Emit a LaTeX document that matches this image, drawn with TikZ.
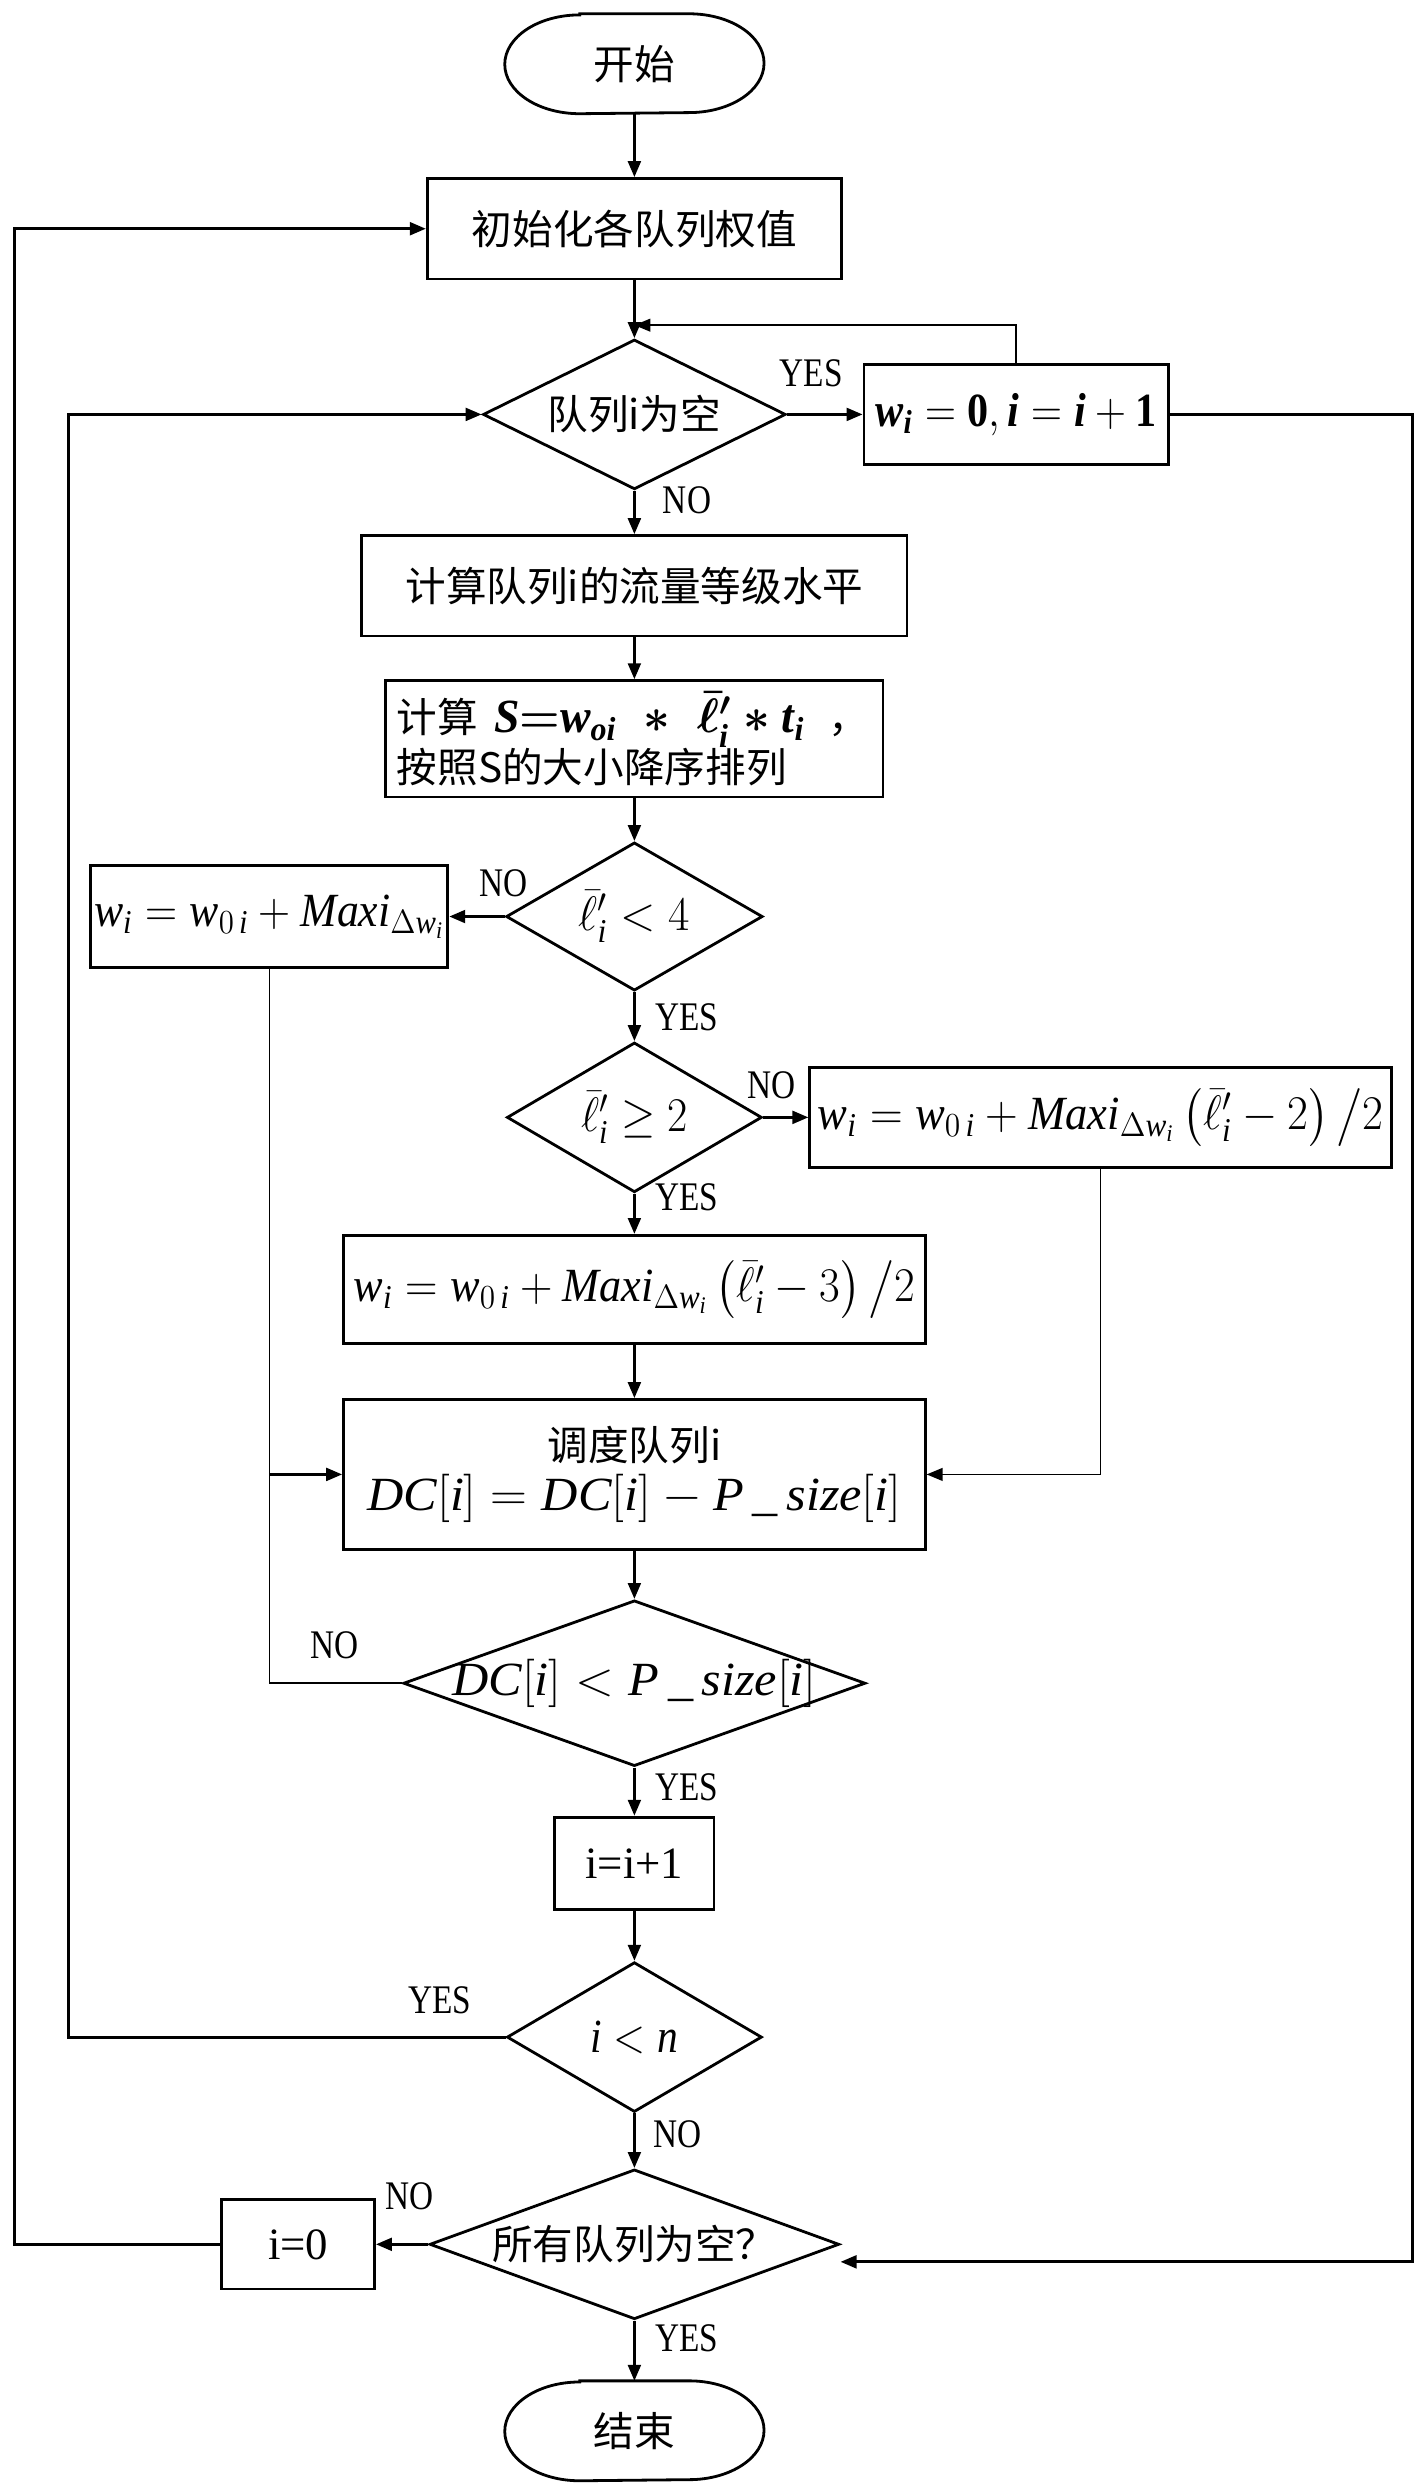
\documentclass[tikz,border=0pt]{standalone}
\usepackage{amsmath}
\usepackage{graphicx}
\usepackage{fontspec}
\setmainfont{Liberation Serif}
\newfontfamily\cjk{Noto Sans CJK SC}
\newfontfamily\labf[FakeStretch=0.82]{Liberation Serif}
\usetikzlibrary{shapes.geometric,arrows.meta}
\newcommand\tm[1]{\text{\normalfont\itshape #1}}
\newcommand\tb[1]{\text{\normalfont\bfseries\itshape #1}}
\newcommand\tu[1]{\text{\normalfont\bfseries #1}}
\newcommand\fitw[2]{\resizebox{#1}{\height}{#2}}
\newcommand\drawterm[1]{\draw[ln] ([xshift=0.94cm]#1.north west) -- ([xshift=-0.94cm]#1.north east) arc[start angle=90,end angle=-90,x radius=0.94cm,y radius=0.62cm] -- ([xshift=0.94cm]#1.south west) arc[start angle=270,end angle=90,x radius=0.94cm,y radius=0.62cm] -- cycle;}
\begin{document}
\begin{tikzpicture}[x=0.02cm,y=-0.02cm,
  ln/.style={line width=1pt},
  thinln/.style={line width=0.6pt},
  arr/.style={ln,-{Triangle[length=0.2cm,width=0.16cm]}},
  tarr/.style={thinln,-{Triangle[length=0.2cm,width=0.16cm]}},
  box/.style={draw,ln,rectangle,inner sep=0pt,font=\cjk\fontsize{14.5}{17}\selectfont},
  dia/.style={draw,ln,diamond,inner sep=0pt,font=\cjk\fontsize{14.5}{17}\selectfont},
  term/.style={inner sep=0pt,minimum width=3.24cm,minimum height=1.24cm,font=\cjk\fontsize{14.5}{17}\selectfont},
  lab/.style={font=\labf\fontsize{14.5}{17}\selectfont,inner sep=0pt},
  mth/.style={font=\fontsize{17}{20}\selectfont}
]
\path[fill=white,use as bounding box] (0,0) rectangle (890.2,1563.4);

% nodes
\node[term] (st) at (398,40) {开始};
\drawterm{st}
\node[box,minimum width=5.2cm,minimum height=1.26cm] (init) at (398,143.5) {初始化各队列权值};
\node[dia,minimum width=3.8cm,minimum height=1.88cm] (d1) at (398,260) {\makebox[0pt]{队列i为空}};
\node[box,mth,minimum width=3.82cm,minimum height=1.26cm] (b1) at (637.5,260) {\fitw{3.53cm}{$\tb{w}_{\tb{i}} = \tu{0}, \tb{i} = \tb{i} + \tu{1}$}};
\node[box,minimum width=6.84cm,minimum height=1.26cm] (b2) at (398,367.5) {计算队列i的流量等级水平};
\node[box,minimum width=6.24cm,minimum height=1.46cm,text width=5.96cm,align=left] (b3) at (398,463.5)
  {计算\hspace{0.2cm}{\fontsize{17}{20}\selectfont\fitw{3.9cm}{\boldmath$\tb{S}{=}\tb{w}_{\tb{oi}}\;*\;\bar{\ell}'_{\tb{i}}*\tb{t}_{\tb{i}}$}}\hspace{0.3cm}，\\[-1pt]按照S的大小降序排列};
\node[dia,minimum width=3.22cm,minimum height=1.86cm] (d2) at (398,575) {\makebox[0pt]{\fontsize{17}{20}\selectfont\fitw{1.4cm}{$\bar{\ell}'_{\tm{i}} < 4$}}};
\node[box,mth,minimum width=4.48cm,minimum height=1.28cm] (bL) at (169,575) {\fitw{4.4cm}{$\tm{w}_{\tm{i}} = \tm{w}_{0\,\tm{i}} + \tm{Maxi}_{\Delta\tm{w}_{\tm{i}}}$}};
\node[dia,minimum width=3.2cm,minimum height=1.88cm] (d3) at (398,701) {\makebox[0pt]{\fontsize{17}{20}\selectfont\fitw{1.34cm}{$\bar{\ell}'_{\tm{i}} \geq 2$}}};
\node[box,mth,minimum width=7.3cm,minimum height=1.26cm] (bR) at (690.5,701) {\fitw{7.1cm}{$\tm{w}_{\tm{i}} = \tm{w}_{0\,\tm{i}} + \tm{Maxi}_{\Delta\tm{w}_{\tm{i}}}\left(\bar{\ell}'_{\tm{i}} - 2\right)\big/2$}};
\node[box,mth,minimum width=7.3cm,minimum height=1.36cm] (bM) at (398,809) {\fitw{7.05cm}{$\tm{w}_{\tm{i}} = \tm{w}_{0\,\tm{i}} + \tm{Maxi}_{\Delta\tm{w}_{\tm{i}}}\left(\bar{\ell}'_{\tm{i}} - 3\right)\big/2$}};
\node[box,minimum width=7.3cm,minimum height=1.88cm,align=center] (b4) at (398,925)
  {调度队列i\\[1pt]{\fontsize{17}{20}\selectfont\fitw{6.7cm}{$\tm{DC}[\tm{i}] = \tm{DC}[\tm{i}] - \tm{P}\,\text{\normalfont\_}\,\tm{size}[\tm{i}]$}}};
\node[dia,minimum width=5.8cm,minimum height=2.08cm] (d4) at (398,1056) {\makebox[0pt]{\fontsize{17}{20}\selectfont\fitw{4.57cm}{$\tm{DC}[\tm{i}] < \tm{P}\,\text{\normalfont\_}\,\tm{size}[\tm{i}]$}}};
\node[box,font=\fontsize{16}{19}\selectfont,minimum width=2cm,minimum height=1.16cm] (b5) at (398,1169) {i=i+1};
\node[dia,minimum width=3.2cm,minimum height=1.88cm] (d5) at (398,1278) {\makebox[0pt]{\fontsize{17}{20}\selectfont\fitw{1.1cm}{$\tm{i} < \tm{n}$}}};
\node[dia,minimum width=5.14cm,minimum height=1.88cm] (d6) at (398,1408) {\makebox[0pt]{所有队列为空？}};
\node[box,font=\fontsize{16}{19}\selectfont,minimum width=1.92cm,minimum height=1.12cm] (b6) at (187,1408) {i=0};
\node[term] (en) at (398,1525) {结束};
\drawterm{en}

% coordinates
\coordinate (j1) at (398,204);
\coordinate (cA) at (43,0);
\coordinate (cR) at (886,0);
\coordinate (cB) at (9,0);
\coordinate (jL) at (bL.south |- b4.west);
\coordinate (d6r) at ([yshift=-0.22cm]d6.east);

% connectors
\draw[arr] (st.south) -- (init.north);
\draw[arr] (init.south) -- (d1.north);
\draw[tarr] (b1.north) |- (j1);
\draw[arr] (d1.east) -- (b1.west);
\draw[arr] (d1.south) -- (b2.north);
\draw[arr] (b2.south) -- (b3.north);
\draw[arr] (b3.south) -- (d2.north);
\draw[arr] (d2.west) -- (bL.east);
\draw[arr] (d2.south) -- (d3.north);
\draw[arr] (d3.east) -- (bR.west);
\draw[arr] (d3.south) -- (bM.north);
\draw[arr] (bM.south) -- (b4.north);
\draw[tarr] (bR.south) |- (b4.east);
\draw[thinln] (d4.west) -| (bL.south);
\draw[arr] (jL) -- (b4.west);
\draw[arr] (b4.south) -- (d4.north);
\draw[arr] (d4.south) -- (b5.north);
\draw[arr] (b5.south) -- (d5.north);
\draw[arr] (d5.west) -- (d5.west -| cA) -- (d1.west -| cA) -- (d1.west);
\draw[arr] (d5.south) -- (d6.north);
\draw[arr] (b1.east) -- (b1.east -| cR) -- (d6r -| cR) -- (d6r);
\draw[arr] (d6.west) -- (b6.east);
\draw[arr] (b6.west) -- (b6.west -| cB) -- (init.west -| cB) -- (init.west);
\draw[arr] (d6.south) -- (en.north);

% labels
\node[lab] (lY1) at (509,234) {YES};
\node[lab] (lN1) at (431,314) {NO};
\node[lab] (lN2) at (316,554) {NO};
\node[lab] (lY2) at (431,638) {YES};
\node[lab] (lN3) at (484,681) {NO};
\node[lab] (lY3) at (431,751) {YES};
\node[lab] (lN4) at (210,1032) {NO};
\node[lab] (lY4) at (431,1121) {YES};
\node[lab] (lY5) at (276,1255) {YES};
\node[lab] (lN5) at (425,1339) {NO};
\node[lab] (lN6) at (257,1378) {NO};
\node[lab] (lY6) at (431,1467) {YES};
\end{tikzpicture}
\end{document}
